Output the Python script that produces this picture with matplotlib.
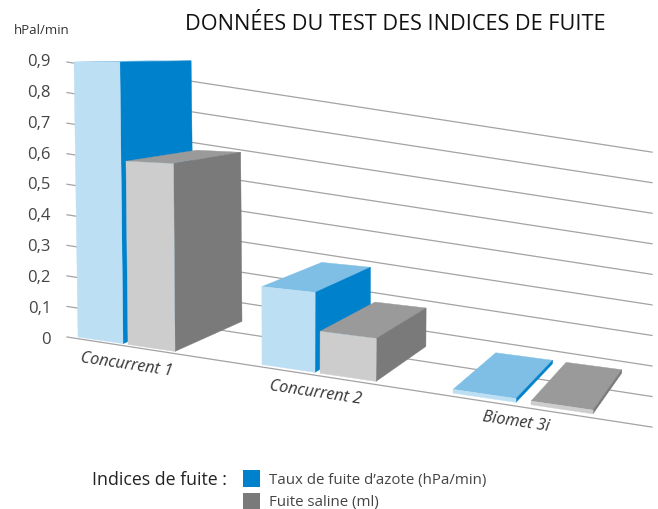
import matplotlib
matplotlib.use('Agg')
import matplotlib.pyplot as plt

# values
categories = ['Concurrent 1', 'Concurrent 2', 'Biomet 3i']
azote = [0.9, 0.255, 0.012]
saline = [0.6, 0.137, 0.012]
ticks = [0, 0.1, 0.2, 0.3, 0.4, 0.5, 0.6, 0.7, 0.8, 0.9]
tick_labels = ['0', '0,1', '0,2', '0,3', '0,4', '0,5', '0,6', '0,7', '0,8', '0,9']

# fake 3D scene, everything in pixels
VP_X = (-1800, 62)   # vanishing point of the front edges
VP_Z = (850, 50)     # vanishing point of the depth edges
VP_Y = (290, 14600)  # vanishing point of the vertical edges
K = 305.5            # pixels per unit of value
FLOOR_X0, FLOOR_Y0, FLOOR_SLOPE = 78, 338, 0.1495

CAT_LEFT = [78, 262, 453]
WIDTH_AZOTE = [45, 53, 63]
WIDTH_SALINE = [47, 56, 62]
GAP = [5, 5, 15]

COL_AZOTE = ('#bddff3', '#0081cc', '#7fbfe5')
COL_SALINE = ('#cdcdcd', '#7a7a7a', '#9a9a9a')

GRID_X0, GRID_X1, GRID_Y0, GRID_K, GRID_SLOPE = 67, 652, 338, 305.5, 0.154


def along(p, vp, x):
    # point at abscissa x on the line from p to a vanishing point
    slope = (p[1] - vp[1]) / (p[0] - vp[0])
    return (x, p[1] + slope * (x - p[0]))


def back(p):
    depth = 0.094 + 0.00003 * p[0]
    return (p[0] + depth * (VP_Z[0] - p[0]), p[1] + depth * (VP_Z[1] - p[1]))


def draw_bar(ax, left, width, value, colors):
    base_l = (left, FLOOR_Y0 + FLOOR_SLOPE * (left - FLOOR_X0))
    h = value * K
    top_l = (left - (VP_Y[0] - left) * h / VP_Y[1], base_l[1] - h)
    base_r = along(base_l, VP_X, left + width)
    top_r = along(top_l, VP_X, left + width - (VP_Y[0] - left - width) * h / VP_Y[1])
    front, side, top = colors
    ax.fill(*zip(top_l, top_r, back(top_r), back(top_l)), color=top, lw=0.3)
    ax.fill(*zip(base_r, top_r, back(top_r), back(base_r)), color=side, lw=0.3)
    ax.fill(*zip(base_l, top_l, top_r, base_r), color=front, lw=0.3)


plt.rcParams['font.family'] = ['Open Sans', 'DejaVu Sans']

fig = plt.figure(figsize=(6.58, 5.10), dpi=100)
ax = fig.add_axes([0, 0, 1, 1])
ax.set_xlim(0, 658)
ax.set_ylim(510, 0)
ax.axis('off')

# back wall lines and their labels
for t, lab in zip(ticks, tick_labels):
    y0 = GRID_Y0 - t * GRID_K
    y1 = y0 + GRID_SLOPE * (GRID_X1 - GRID_X0)
    ax.plot([GRID_X0, GRID_X1], [y0, y1], color='#a3a3a3', lw=0.9, zorder=1)
    ax.text(51, 340 - t * 309, lab, ha='right', va='center', fontsize=12, color='#444444')

for i, cat in enumerate(categories):
    draw_bar(ax, CAT_LEFT[i], WIDTH_AZOTE[i], azote[i], COL_AZOTE)
    left2 = CAT_LEFT[i] + WIDTH_AZOTE[i] + GAP[i]
    draw_bar(ax, left2, WIDTH_SALINE[i], saline[i], COL_SALINE)

label_pos = [(127, 365), (316, 393), (516, 422)]
for cat, (x, y) in zip(categories, label_pos):
    ax.text(x, y, cat, rotation=-8.5, rotation_mode='anchor', ha='center', va='center',
            fontsize=11.6, style='italic', color='#333333')

ax.text(395.5, 25, 'DONNÉES DU TEST DES INDICES DE FUITE', ha='center', va='center',
        fontsize=15.6, color='#111111')
ax.text(14, 30, 'hPal/min', ha='left', va='center', fontsize=9.5, color='#333333')

# legend
ax.text(92, 480, 'Indices de fuite :', ha='left', va='center', fontsize=12.8, fontweight=500, color='#222222')
ax.add_patch(plt.Rectangle((243, 471), 17, 17, color=COL_AZOTE[1], lw=0))
ax.add_patch(plt.Rectangle((243, 494), 17, 17, color=COL_SALINE[1], lw=0))
ax.text(269, 481, 'Taux de fuite d’azote (hPa/min)', ha='left', va='center', fontsize=10.8, color='#444444')
ax.text(269, 502.5, 'Fuite saline (ml)', ha='left', va='center', fontsize=10.8, color='#444444')

fig.savefig('out.png', dpi=100)
plt.close(fig)
